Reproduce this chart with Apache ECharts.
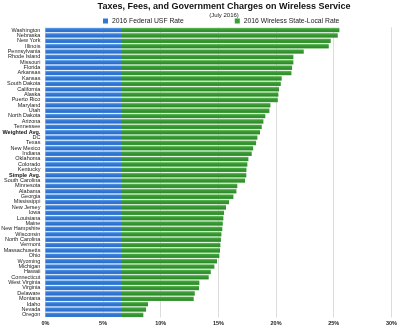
<!DOCTYPE html>
<html><head><meta charset="utf-8">
<script src="https://cdn.jsdelivr.net/npm/echarts@6/dist/echarts.min.js"></script>
<style>html,body{margin:0;padding:0;background:#fff}#c{width:400px;height:328px}</style>
</head><body><div id="c"></div>
<script>
const categories = ["Washington","Nebraska","New York","Illinois","Pennsylvania","Rhode Island","Missouri","Florida","Arkansas","Kansas","South Dakota","California","Alaska","Puerto Rico","Maryland","Utah","North Dakota","Arizona","Tennessee","Weighted Avg.","DC","Texas","New Mexico","Indiana","Oklahoma","Colorado","Kentucky","Simple Avg.","South Carolina","Minnesota","Alabama","Georgia","Mississippi","New Jersey","Iowa","Louisiana","Maine","New Hampshire","Wisconsin","North Carolina","Vermont","Massachusetts","Ohio","Wyoming","Michigan","Hawaii","Connecticut","West Virginia","Virginia","Delaware","Montana","Idaho","Nevada","Oregon"];
const totalRates = [25.49,25.35,24.74,24.57,22.40,21.50,21.50,21.39,21.33,20.49,20.41,20.26,20.20,20.15,19.51,19.42,19.07,18.90,18.76,18.61,18.38,18.27,18.01,17.89,17.60,17.51,17.43,17.42,17.31,16.64,16.56,16.30,15.92,15.66,15.49,15.43,15.38,15.34,15.26,15.22,15.17,15.14,15.08,14.88,14.65,14.34,14.16,13.35,13.32,12.95,12.86,8.90,8.73,8.49];
const federalRate = 6.64;
const federalValues = categories.map(() => federalRate);
const stateLocalValues = totalRates.map(t => +(t - federalRate).toFixed(2));
const boldLabels = ["Weighted Avg.","Simple Avg."];

const blueGrad = new echarts.graphic.LinearGradient(0,0,0,1,[
  {offset:0,color:'#8cc0f3'},{offset:0.25,color:'#3a80da'},{offset:0.8,color:'#2b6dca'},{offset:1,color:'#4d8fe0'}]);
const greenGrad = new echarts.graphic.LinearGradient(0,0,0,1,[
  {offset:0,color:'#90d27f'},{offset:0.25,color:'#3fa13a'},{offset:0.8,color:'#2f8a2c'},{offset:1,color:'#49a844'}]);

const chart = echarts.init(document.getElementById('c'), null, {renderer:'canvas'});
chart.setOption({
  animation:false,
  backgroundColor:'#fff',
  title:{
    text:'Taxes, Fees, and Government Charges on Wireless Service',
    subtext:'(July 2016)',
    left:224, top:2, padding:0, textAlign:'center', itemGap:1,
    textStyle:{fontFamily:'Liberation Sans, Arial, sans-serif',fontSize:9,fontWeight:'bold',color:'#111'},
    subtextStyle:{fontFamily:'Liberation Sans, Arial, sans-serif',fontSize:6,color:'#222'}
  },
  legend:{
    top:17.5, left:103, padding:0, itemGap:51, itemWidth:5, itemHeight:5,
    icon:'rect',
    textStyle:{fontFamily:'Liberation Sans, Arial, sans-serif',fontSize:6.8,color:'#222',padding:[0,0,0,-1]},
    data:[{name:'2016 Federal USF Rate',itemStyle:{color:'#2f78d6'}},{name:'2016 Wireless State-Local Rate',itemStyle:{color:'#36a032'}}]
  },
  grid:{left:45.4,right:8.6,top:27.3,bottom:10.5,containLabel:false,outerBoundsMode:'none'},
  xAxis:{
    type:'value', min:0, max:30, interval:5,
    axisLine:{show:false}, axisTick:{show:false},
    splitLine:{lineStyle:{color:'#dcdcdc',width:1}},
    axisLabel:{formatter:v=>v+'%',fontFamily:'Liberation Sans, Arial, sans-serif',fontSize:5.5,fontWeight:'bold',color:'#222',margin:3}
  },
  yAxis:{
    type:'category', data:categories, inverse:true,
    axisLine:{show:false}, axisTick:{show:false},
    axisLabel:{
      interval:0, margin:5, fontFamily:'Liberation Sans, Arial, sans-serif', fontSize:5.5, color:'#222',
      formatter:v=> boldLabels.includes(v) ? '{b|'+v+'}' : v,
      rich:{b:{fontWeight:'bold',fontSize:5.5,fontFamily:'Liberation Sans, Arial, sans-serif',color:'#111'}}
    }
  },
  series:[
    {name:'2016 Federal USF Rate',type:'bar',stack:'t',data:federalValues,barCategoryGap:'14%',itemStyle:{color:blueGrad}},
    {name:'2016 Wireless State-Local Rate',type:'bar',stack:'t',data:stateLocalValues,barCategoryGap:'14%',itemStyle:{color:greenGrad}}
  ]
});
</script></body></html>
